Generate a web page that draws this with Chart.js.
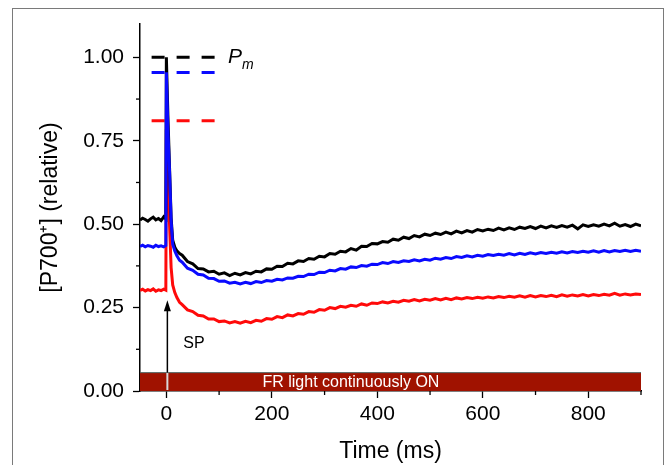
<!DOCTYPE html>
<html>
<head>
<meta charset="utf-8">
<title>P700 oxidation kinetics</title>
<script src="https://cdn.jsdelivr.net/npm/chart.js@4.4.1/dist/chart.umd.min.js"></script>
<style>
  html, body { margin: 0; padding: 0; background: #fff; overflow: hidden; }
  #wrap { position: relative; width: 668px; height: 465px; }
  #frame { position: absolute; left: 12px; top: 8px; width: 652px; height: 480px; border: 1.5px solid #7a7a7a; box-sizing: border-box; }
  #chart { position: absolute; left: 0; top: 0; }
</style>
</head>
<body>
<div id="wrap">
  <div id="frame"></div>
  <canvas id="chart" width="668" height="465"></canvas>
</div>
<script>
// time points (ms) shared by the three traces
const timeMs = [
  -50,-45,-40,-35,-30,-25,-20,-15,-10,-5,-1,
  0,1,3,6,9,12,16,20,25,
  30,40,50,60,70,80,90,100,110,120,130,140,150,160,170,180,190,200,
  210,220,230,240,250,260,270,280,290,300,310,320,330,340,350,360,370,380,390,400,
  410,420,430,440,450,460,470,480,490,500,510,520,530,540,550,560,570,580,590,600,
  610,620,630,640,650,660,670,680,690,700,710,720,730,740,750,760,770,780,790,800,
  810,820,830,840,850,860,870,880,890,900
];

// [P700+] traces
const blackTrace = [
  0.512,0.518,0.514,0.509,0.516,0.521,0.513,0.517,0.511,0.522,0.516,
  1.000,1.000,0.820,0.670,0.520,0.452,0.431,0.420,0.412,
  0.407,0.388,0.381,0.367,0.366,0.357,0.359,0.350,0.354,0.346,0.353,0.348,0.355,0.351,0.359,0.357,0.366,0.365,
  0.374,0.373,0.383,0.381,0.390,0.388,0.397,0.395,0.404,0.402,0.412,0.410,0.419,0.417,0.427,0.422,0.434,0.433,0.442,0.441,
  0.448,0.446,0.455,0.452,0.461,0.457,0.466,0.462,0.470,0.466,0.473,0.469,0.476,0.471,0.479,0.474,0.481,0.476,0.484,0.480,
  0.485,0.481,0.488,0.483,0.489,0.484,0.491,0.487,0.493,0.487,0.494,0.489,0.495,0.490,0.496,0.491,0.497,0.486,0.498,0.493,
  0.498,0.494,0.500,0.495,0.503,0.494,0.499,0.493,0.500,0.495
];
const blueTrace = [
  0.433,0.437,0.432,0.436,0.434,0.431,0.437,0.433,0.435,0.432,0.436,
  0.955,0.955,0.780,0.660,0.510,0.440,0.420,0.405,0.392,
  0.386,0.368,0.362,0.350,0.348,0.338,0.337,0.329,0.330,0.323,0.326,0.321,0.326,0.322,0.328,0.325,0.331,0.329,
  0.335,0.333,0.339,0.338,0.344,0.343,0.350,0.349,0.356,0.355,0.362,0.360,0.367,0.365,0.372,0.370,0.376,0.374,0.380,0.379,
  0.385,0.382,0.388,0.385,0.390,0.388,0.393,0.390,0.395,0.392,0.398,0.395,0.400,0.397,0.403,0.400,0.405,0.402,0.407,0.404,
  0.409,0.406,0.410,0.407,0.412,0.408,0.413,0.409,0.414,0.411,0.415,0.412,0.416,0.413,0.417,0.414,0.418,0.415,0.419,0.416,
  0.420,0.416,0.421,0.417,0.421,0.418,0.422,0.418,0.422,0.419
];
const redTrace = [
  0.302,0.305,0.300,0.304,0.301,0.306,0.299,0.303,0.301,0.305,0.302,
  0.780,0.810,0.660,0.500,0.370,0.318,0.295,0.280,0.266,
  0.259,0.243,0.238,0.227,0.225,0.216,0.216,0.208,0.210,0.204,0.208,0.203,0.209,0.205,0.212,0.209,0.217,0.215,
  0.223,0.220,0.228,0.225,0.232,0.230,0.238,0.236,0.244,0.242,0.250,0.247,0.254,0.251,0.257,0.254,0.261,0.257,0.264,0.262,
  0.267,0.264,0.269,0.266,0.272,0.269,0.274,0.270,0.275,0.272,0.277,0.273,0.278,0.274,0.279,0.276,0.280,0.277,0.281,0.278,
  0.282,0.279,0.283,0.280,0.284,0.281,0.285,0.281,0.286,0.282,0.286,0.283,0.287,0.283,0.288,0.284,0.288,0.285,0.289,0.285,
  0.289,0.286,0.290,0.287,0.293,0.287,0.291,0.288,0.291,0.289
];

// Pm levels (dashed marks)
const pmTime = [-28, 100];
const pmBlack = [1.00, 1.00];
const pmBlue = [0.955, 0.955];
const pmRed = [0.81, 0.81];

// far-red light bar
const frTime = [-50, 900];
const frLevel = [0.055, 0.055];

// ticks
const xMajorTicks = [0, 200, 400, 600, 800];
const xMinorTicks = [100, 300, 500, 700, 900];
const yMajorTicks = [0, 0.25, 0.5, 0.75, 1.0];
const yMinorTicks = [0.125, 0.375, 0.625, 0.875];

// annotation anchors (data units)
const spArrow = { x: 0, from: 0, to: 0.272 };
const spLabel = { x: 32, y: 0.143, text: 'SP' };
const pmLabel = { x: 117, y: 0.982 };
const frLabel = { x: 350, text: 'FR light continuously ON' };

const FONT = 'Liberation Sans, Arial, Helvetica, sans-serif';
Chart.defaults.font.family = FONT;
Chart.defaults.color = '#000';

const pts = (xs, ys) => xs.map((x, i) => ({ x, y: ys[i] }));

function traceSet(label, ys, color, order){
  return { label, data: pts(timeMs, ys), borderColor: color, borderWidth: 3,
           pointRadius: 0, tension: 0, fill: false, order };
}
function dashSet(ys, color){
  return { label: 'Pm', data: pts(pmTime, ys), borderColor: color, borderWidth: 3,
           borderDash: [13, 12], pointRadius: 0, fill: false, order: 4 };
}

// minor ticks, SP arrow and text labels
const extrasPlugin = {
  id: 'extras',
  afterDatasetsDraw(chart){
    const { ctx, scales: { x, y } } = chart;
    ctx.save();
    // minor ticks
    ctx.strokeStyle = '#000';
    ctx.lineWidth = 1.3;
    xMinorTicks.forEach(v => {
      const px = x.getPixelForValue(v);
      ctx.beginPath(); ctx.moveTo(px, y.bottom); ctx.lineTo(px, y.bottom + 4); ctx.stroke();
    });
    yMinorTicks.forEach(v => {
      const py = y.getPixelForValue(v);
      ctx.beginPath(); ctx.moveTo(x.left, py); ctx.lineTo(x.left - 4, py); ctx.stroke();
    });

    // SP arrow
    const ax = x.getPixelForValue(spArrow.x) + 1;
    const y0 = y.getPixelForValue(spArrow.from);
    const yBar = y.getPixelForValue(frLevel[0]);
    const yTip = y.getPixelForValue(spArrow.to);
    ctx.strokeStyle = '#d8d8d8'; ctx.lineWidth = 2;
    ctx.beginPath(); ctx.moveTo(ax, y0 - 1); ctx.lineTo(ax, yBar); ctx.stroke();
    ctx.strokeStyle = '#000'; ctx.lineWidth = 1.5;
    ctx.beginPath(); ctx.moveTo(ax, yBar); ctx.lineTo(ax, yTip + 8); ctx.stroke();
    ctx.fillStyle = '#000';
    ctx.beginPath(); ctx.moveTo(ax, yTip); ctx.lineTo(ax - 3.5, yTip + 11); ctx.lineTo(ax + 3.5, yTip + 11); ctx.closePath(); ctx.fill();

    // SP text
    ctx.font = '16px ' + FONT;
    ctx.textAlign = 'left'; ctx.textBaseline = 'middle';
    ctx.fillText(spLabel.text, x.getPixelForValue(spLabel.x), y.getPixelForValue(spLabel.y));

    // FR bar text
    ctx.fillStyle = '#fff';
    ctx.textAlign = 'center';
    ctx.fillText(frLabel.text, x.getPixelForValue(frLabel.x), y.getPixelForValue(frLevel[0] / 2) + 1);

    // Pm label
    ctx.fillStyle = '#000';
    ctx.textAlign = 'left'; ctx.textBaseline = 'alphabetic';
    const px = x.getPixelForValue(pmLabel.x), py = y.getPixelForValue(pmLabel.y);
    ctx.font = 'italic 21px ' + FONT;
    ctx.fillText('P', px, py);
    const pw = ctx.measureText('P').width;
    ctx.font = 'italic 14px ' + FONT;
    ctx.fillText('m', px + pw, py + 6);
    ctx.restore();
  }
};

const chart = new Chart(document.getElementById('chart'), {
  type: 'line',
  data: {
    datasets: [
      traceSet('black', blackTrace, '#000000', 2),
      traceSet('blue', blueTrace, '#0a0aff', 1),
      traceSet('red', redTrace, '#ff0a0a', 3),
      dashSet(pmBlack, '#000000'),
      dashSet(pmBlue, '#0a0aff'),
      dashSet(pmRed, '#ff0a0a'),
      { label: 'FR light', data: pts(frTime, frLevel), borderColor: '#51625f', borderWidth: 1,
        backgroundColor: '#a01200', fill: 'origin', pointRadius: 0, order: 5 }
    ]
  },
  options: {
    responsive: false,
    animation: false,
    layout: { padding: { left: 0, right: 27, top: 24, bottom: 0 } },
    plugins: { legend: { display: false }, tooltip: { enabled: false } },
    scales: {
      x: {
        type: 'linear', min: -50, max: 900,
        afterFit: s => { s.height = 74; },
        afterBuildTicks: s => { s.ticks = xMajorTicks.map(v => ({ value: v })); },
        border: { display: true, color: '#000', width: 1.5 },
        grid: { drawOnChartArea: false, drawTicks: true, tickLength: 7, color: '#000', tickWidth: 1.3 },
        ticks: { font: { size: 21 }, padding: 4, maxRotation: 0, callback: v => String(v) },
        title: { display: true, text: 'Time (ms)', font: { size: 23 }, padding: { top: 0, bottom: 0 } }
      },
      y: {
        type: 'linear', min: 0, max: 1.1,
        afterFit: s => { s.width = 140; },
        afterBuildTicks: s => { s.ticks = yMajorTicks.map(v => ({ value: v })); },
        border: { display: true, color: '#000', width: 1.5 },
        grid: { drawOnChartArea: false, drawTicks: true, tickLength: 7, color: '#000', tickWidth: 1.3 },
        ticks: { font: { size: 21 }, padding: 9, callback: v => Number(v).toFixed(2) },
        title: { display: true, text: '[P700\u207A] (relative)', font: { size: 23 }, padding: { top: 37, bottom: 0 } }
      }
    }
  },
  plugins: [extrasPlugin]
});
</script>
</body>
</html>
